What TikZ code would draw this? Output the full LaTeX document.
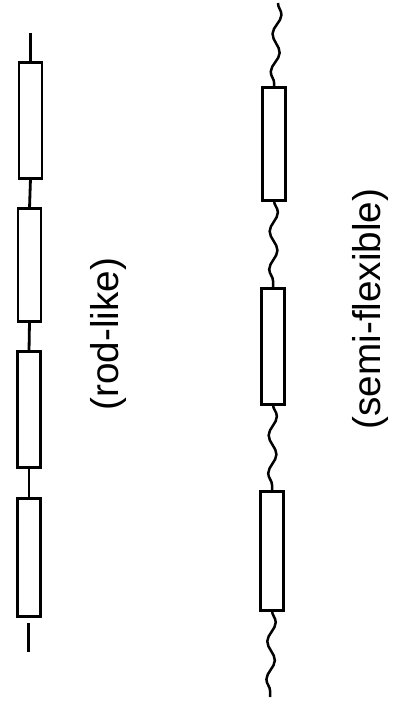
\documentclass[tikz,border=0pt]{standalone}
\usepackage{fontspec}
\setmainfont{Liberation Sans}
\usetikzlibrary{decorations.pathmorphing}
\begin{document}
\begin{tikzpicture}[x=1pt,y=-1pt,
  seg/.style={draw, line width=2.8pt, fill=white, inner sep=0pt, outer sep=0pt, minimum width=23pt},
  rodlink/.style={line width=2.8pt},
  wavy/.style={line width=2.5pt, decorate, decoration={snake, segment length=38pt, amplitude=4pt}},
  lbl/.style={rotate=90, inner sep=0pt, font=\fontsize{38.7}{40}\selectfont}]
\useasboundingbox (0,0) rectangle (392,706);
% rod-like
\node[seg, minimum height=116pt] (r1) at (30.5,120.5) {};
\node[seg, minimum height=113pt] (r2) at (29.5,265) {};
\node[seg, minimum height=116pt] (r3) at (29,409.5) {};
\node[seg, minimum height=118pt] (r4) at (29,557.5) {};
\coordinate (rt) at (30.5,33);
\coordinate (rb0) at (28.5,623);
\coordinate (rb1) at (28.5,652);
\draw[rodlink] (rt) -- (r1.north);
\draw[rodlink] (r1.south) -- (r2.north);
\draw[rodlink] (r2.south) -- (r3.north);
\draw[rodlink] (r3.south) -- (r4.north);
\draw[rodlink] (rb0) -- (rb1);
\node[lbl] (rl) at (108,334) {(rod-like)};
% semi-flexible
\node[seg, minimum height=113pt] (s1) at (274,144) {};
\node[seg, minimum height=116pt] (s2) at (273,346.5) {};
\node[seg, minimum height=119pt] (s3) at (272,551) {};
\coordinate (st) at (278,3);
\coordinate (sb) at (270,697);
\draw[wavy] (st) -- (s1.north);
\draw[wavy] (s1.south) -- (s2.north);
\draw[wavy] (s2.south) -- (s3.north);
\draw[wavy] (s3.south) -- (sb);
\node[lbl] (sl) at (370,309) {(semi-flexible)};
\end{tikzpicture}
\end{document}
